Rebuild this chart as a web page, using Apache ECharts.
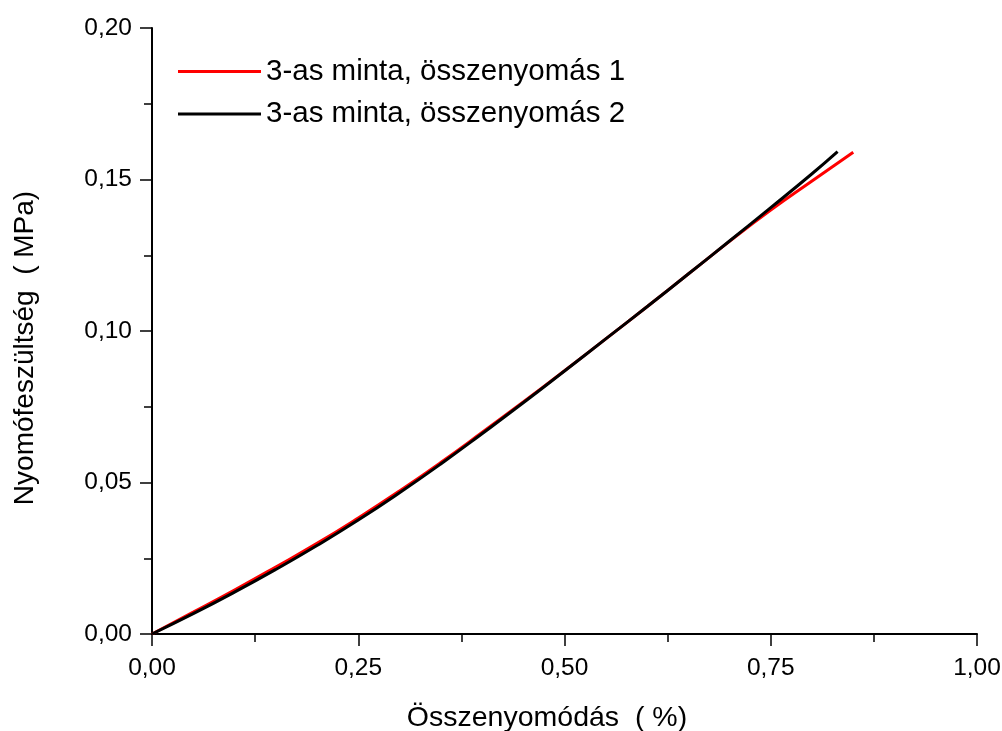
<!DOCTYPE html>
<html>
<head>
<meta charset="utf-8">
<script src="https://cdn.jsdelivr.net/npm/echarts@6/dist/echarts.min.js"></script>
<style>
html,body{margin:0;padding:0;background:#fff;}
#chart{width:1002px;height:731px;}
</style>
</head>
<body>
<div id="chart"></div>
<script>
// strain (%) and stress (MPa) values
const strain1 = [0, 0.05, 0.10, 0.15, 0.20, 0.25, 0.30, 0.35, 0.40, 0.45, 0.50, 0.55, 0.60, 0.65, 0.70, 0.75, 0.80, 0.85];
const stress1 = [0, 0.0072, 0.0145, 0.0221, 0.0299, 0.0383, 0.0472, 0.0566, 0.0665, 0.0766, 0.0869, 0.0974, 0.1080, 0.1188, 0.1296, 0.1399, 0.1495, 0.1590];
const strain2 = [0, 0.05, 0.10, 0.15, 0.20, 0.25, 0.30, 0.35, 0.40, 0.45, 0.50, 0.55, 0.60, 0.65, 0.70, 0.75, 0.80, 0.831];
const stress2 = [0, 0.0067, 0.0138, 0.0213, 0.0292, 0.0376, 0.0466, 0.0561, 0.0661, 0.0763, 0.0868, 0.0974, 0.1080, 0.1188, 0.1297, 0.1407, 0.1519, 0.1592];
const seriesNames = ['3-as minta, összenyomás 1', '3-as minta, összenyomás 2'];
const xTitle = 'Összenyomódás  ( %)';
const yTitle = 'Nyomófeszültség  ( MPa)';

const pair = (xs, ys) => xs.map((x, i) => [x, ys[i]]);
const fmt = v => v.toFixed(2).replace('.', ',');
const FONT = 'Liberation Sans, Arial, sans-serif';

const chart = echarts.init(document.getElementById('chart'), null, {renderer: 'canvas'});
chart.setOption({
  backgroundColor: '#ffffff',
  animation: false,
  grid: {left: 152, right: 25, top: 28, bottom: 97, containLabel: false, outerBoundsMode: 'none'},
  legend: {
    orient: 'vertical',
    left: 178,
    top: 56.5,
    padding: 0,
    icon: 'rect',
    itemWidth: 83,
    itemHeight: 3,
    itemGap: 12.6,
    data: seriesNames,
    textStyle: {fontFamily: FONT, fontSize: 29.5, color: '#000', lineHeight: 30}
  },
  xAxis: {
    type: 'value',
    min: 0, max: 1, interval: 0.25,
    name: xTitle,
    nameLocation: 'middle',
    nameGap: 70,
    nameTextStyle: {fontFamily: FONT, fontSize: 28.5, color: '#000', padding: [0, 35, 0, 0]},
    axisLine: {show: true, onZero: false, lineStyle: {color: '#000', width: 2}},
    axisTick: {show: true, inside: false, length: 12, lineStyle: {color: '#000', width: 1.5}},
    minorTick: {show: true, splitNumber: 2, length: 8, lineStyle: {color: '#000', width: 1.5}},
    axisLabel: {fontFamily: FONT, fontSize: 24.5, color: '#000', margin: 22, formatter: fmt},
    splitLine: {show: false}
  },
  yAxis: {
    type: 'value',
    min: 0, max: 0.2, interval: 0.05,
    name: yTitle,
    nameLocation: 'middle',
    nameGap: 113,
    nameTextStyle: {fontFamily: FONT, fontSize: 28, color: '#000', padding: [0, 34, 0, 0]},
    axisLine: {show: true, onZero: false, lineStyle: {color: '#000', width: 2}},
    axisTick: {show: true, inside: false, length: 12, lineStyle: {color: '#000', width: 1.5}},
    minorTick: {show: true, splitNumber: 2, length: 8, lineStyle: {color: '#000', width: 1.5}},
    axisLabel: {fontFamily: FONT, fontSize: 24.5, color: '#000', margin: 20, formatter: fmt},
    splitLine: {show: false}
  },
  series: [
    {
      name: seriesNames[0], type: 'line', data: pair(strain1, stress1),
      symbol: 'none', smooth: true, color: '#ff0000',
      lineStyle: {color: '#ff0000', width: 3}
    },
    {
      name: seriesNames[1], type: 'line', data: pair(strain2, stress2),
      symbol: 'none', smooth: true, color: '#000000',
      lineStyle: {color: '#000000', width: 3}
    }
  ]
});
</script>
</body>
</html>
